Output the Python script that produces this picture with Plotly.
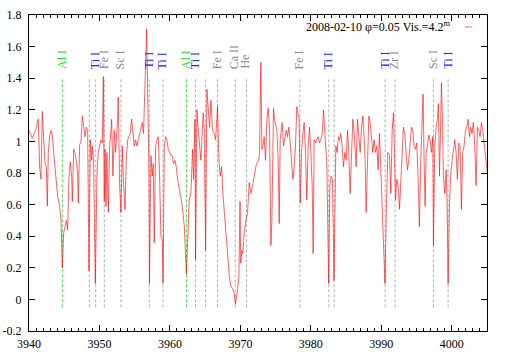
import plotly.graph_objects as go

# spectrum (wavelength in Angstrom, normalised flux)
wavelength = [
    3940.00, 3940.24, 3940.47, 3940.71, 3940.95, 3941.18, 3941.32, 3941.51, 3941.70, 3941.89,
    3942.08, 3942.27, 3942.46, 3942.60, 3942.74, 3942.93, 3943.12, 3943.31, 3943.50, 3943.69,
    3943.88, 3944.07, 3944.35, 3944.54, 3944.73, 3944.92, 3945.11, 3945.30, 3945.48, 3945.67,
    3945.86, 3946.05, 3946.15, 3946.34, 3946.52, 3946.71, 3946.90, 3947.00, 3947.19, 3947.38,
    3947.57, 3947.75, 3947.94, 3948.13, 3948.32, 3948.51, 3948.70, 3948.89, 3948.98, 3949.17,
    3949.41, 3949.65, 3949.83, 3950.02, 3950.21, 3950.40, 3950.55, 3950.68, 3950.80, 3950.92,
    3951.06, 3951.25, 3951.44, 3951.63, 3951.73, 3951.91, 3952.10, 3952.29, 3952.43, 3952.58,
    3952.67, 3952.86, 3953.05, 3953.24, 3953.43, 3953.62, 3953.81, 3954.00, 3954.18, 3954.37,
    3954.56, 3954.75, 3954.94, 3955.13, 3955.32, 3955.51, 3955.70, 3955.89, 3956.08, 3956.26,
    3956.45, 3956.69, 3956.83, 3957.02, 3957.10, 3957.30, 3957.49, 3957.64, 3957.78, 3957.97,
    3958.16, 3958.35, 3958.53, 3958.72, 3958.91, 3959.03, 3959.20, 3959.39, 3959.57, 3959.76,
    3959.95, 3960.14, 3960.33, 3960.52, 3960.71, 3960.90, 3961.09, 3961.28, 3961.47, 3961.66,
    3961.84, 3962.03, 3962.34, 3962.51, 3962.74, 3962.98, 3963.21, 3963.36, 3963.55, 3963.64,
    3963.83, 3964.02, 3964.21, 3964.40, 3964.59, 3964.73, 3964.87, 3965.06, 3965.25, 3965.44,
    3965.63, 3965.82, 3966.05, 3966.29, 3966.48, 3966.76, 3966.95, 3967.14, 3967.33, 3967.52,
    3967.71, 3967.94, 3968.18, 3968.42, 3968.65, 3968.89, 3969.13, 3969.30, 3969.46, 3969.60,
    3969.79, 3969.95, 3970.05, 3970.21, 3970.35, 3970.54, 3970.78, 3971.02, 3971.25, 3971.49,
    3971.73, 3971.96, 3972.20, 3972.43, 3972.58, 3972.72, 3972.91, 3973.05, 3973.19, 3973.38,
    3973.57, 3973.76, 3973.95, 3974.14, 3974.33, 3974.47, 3974.70, 3974.85, 3975.04, 3975.18,
    3975.37, 3975.51, 3975.65, 3975.79, 3975.93, 3976.12, 3976.31, 3976.50, 3976.69, 3976.88,
    3977.07, 3977.26, 3977.45, 3977.64, 3977.82, 3978.01, 3978.20, 3978.34, 3978.49, 3978.68,
    3978.87, 3979.05, 3979.24, 3979.43, 3979.62, 3979.81, 3980.00, 3980.19, 3980.33, 3980.47,
    3980.66, 3980.85, 3981.04, 3981.23, 3981.42, 3981.61, 3981.80, 3981.99, 3982.13, 3982.27,
    3982.53, 3982.70, 3982.88, 3983.07, 3983.29, 3983.45, 3983.55, 3983.73, 3983.92, 3984.07,
    3984.25, 3984.44, 3984.63, 3984.82, 3985.01, 3985.20, 3985.39, 3985.58, 3985.77, 3985.96,
    3986.15, 3986.29, 3986.43, 3986.62, 3986.81, 3987.00, 3987.19, 3987.38, 3987.56, 3987.71,
    3987.85, 3988.04, 3988.23, 3988.42, 3988.61, 3988.79, 3988.98, 3989.17, 3989.36, 3989.55,
    3989.74, 3989.93, 3990.12, 3990.31, 3990.52, 3990.69, 3990.92, 3991.16, 3991.35, 3991.54,
    3991.73, 3991.87, 3992.01, 3992.20, 3992.39, 3992.58, 3992.77, 3992.95, 3993.14, 3993.33,
    3993.52, 3993.71, 3993.90, 3994.09, 3994.28, 3994.47, 3994.66, 3994.85, 3995.03, 3995.22,
    3995.41, 3995.60, 3995.79, 3995.93, 3996.07, 3996.22, 3996.36, 3996.55, 3996.74, 3996.93,
    3997.12, 3997.30, 3997.40, 3997.59, 3997.78, 3997.97, 3998.11, 3998.25, 3998.39, 3998.53,
    3998.68, 3998.82, 3999.01, 3999.20, 3999.34, 3999.48, 3999.67, 3999.86, 4000.05, 4000.24,
    4000.42, 4000.61, 4000.80, 4000.99, 4001.18, 4001.37, 4001.56, 4001.75, 4001.94, 4002.13,
    4002.32, 4002.51, 4002.69, 4002.88, 4003.07, 4003.26, 4003.45, 4003.64, 4003.83, 4004.02,
    4004.21, 4004.40, 4004.59, 4004.77, 4004.96, 4005.10,
]
flux = [
    1.07, 1.04, 1.02, 1.05, 1.07, 1.12, 1.14, 0.84, 0.76, 1.19,
    1.03, 0.86, 0.84, 0.59, 0.93, 1.03, 1.07, 1.04, 0.93, 0.84,
    0.78, 0.65, 0.59, 0.50, 0.20, 0.42, 0.46, 0.50, 0.44, 0.76,
    0.87, 0.78, 0.62, 0.95, 0.93, 0.88, 0.80, 0.61, 0.98, 1.00,
    1.16, 1.09, 1.03, 1.09, 1.07, 0.18, 1.01, 0.88, 0.97, 0.88,
    0.10, 0.80, 0.93, 0.97, 1.01, 0.99, 1.41, 0.62, 0.95, 0.59,
    0.93, 0.55, 0.97, 1.07, 1.14, 0.78, 1.07, 0.93, 1.01, 1.14,
    1.28, 0.72, 0.55, 0.97, 0.72, 0.57, 0.88, 1.01, 1.03, 1.05,
    1.14, 1.05, 0.97, 1.01, 0.97, 1.01, 1.05, 1.09, 1.12, 1.05,
    1.35, 1.71, 1.35, 0.84, 0.10, 0.91, 0.78, 0.86, 0.36, 0.97,
    1.01, 1.03, 0.78, 0.40, 0.38, 0.10, 0.97, 1.03, 1.01, 0.95,
    0.93, 0.91, 0.91, 0.86, 0.88, 0.84, 0.76, 0.72, 0.67, 0.62,
    0.55, 0.47, 0.16, 0.40, 0.63, 0.67, 0.95, 0.76, 1.14, 0.25,
    1.20, 1.07, 0.97, 0.88, 1.07, 1.18, 1.07, 0.31, 1.33, 1.18,
    1.09, 1.26, 1.07, 1.05, 1.01, 1.22, 0.88, 0.78, 0.84, 0.67,
    0.55, 0.40, 0.25, 0.15, 0.08, 0.07, 0.04, -0.03, 0.02, 0.06,
    0.15, 0.62, 0.23, 0.31, 0.29, 0.42, 0.50, 0.55, 0.74, 0.67,
    0.72, 0.78, 0.84, 0.87, 0.88, 0.93, 1.50, 0.95, 0.97, 1.03,
    0.88, 1.14, 1.21, 1.07, 0.34, 0.50, 1.21, 1.14, 1.09, 1.07,
    0.88, 0.48, 1.01, 1.09, 1.12, 0.97, 1.01, 1.07, 1.03, 1.09,
    0.99, 0.88, 0.76, 0.84, 0.97, 1.22, 1.18, 1.14, 0.61, 0.93,
    1.05, 1.12, 0.93, 0.63, 0.97, 1.09, 0.93, 0.72, 0.29, 1.01,
    0.99, 1.01, 1.03, 0.99, 1.01, 1.05, 1.20, 1.05, 0.91, 0.86,
    0.10, 0.72, 0.78, 0.76, 0.12, 0.88, 0.97, 0.93, 1.03, 1.01,
    1.05, 0.97, 0.84, 0.93, 0.88, 1.07, 0.93, 0.67, 0.88, 1.14,
    1.05, 0.95, 0.84, 1.14, 1.03, 0.93, 1.09, 1.16, 1.03, 0.88,
    0.55, 0.97, 1.16, 1.12, 1.03, 0.93, 1.01, 0.93, 0.97, 0.82,
    1.05, 0.82, 0.59, 0.40, 0.10, 0.50, 0.93, 0.91, 0.67, 1.07,
    1.18, 0.93, 0.63, 0.76, 0.72, 0.57, 0.74, 0.88, 1.09, 1.05,
    0.93, 0.82, 0.88, 1.01, 1.09, 1.07, 0.97, 0.95, 0.99, 0.78,
    0.46, 0.88, 1.12, 1.30, 0.88, 0.59, 0.93, 0.97, 1.04, 1.01,
    0.93, 1.03, 0.34, 0.97, 1.09, 1.14, 1.24, 0.78, 1.03, 1.37,
    1.14, 0.78, 0.67, 0.82, 0.59, 0.10, 0.59, 0.80, 0.88, 0.97,
    1.01, 0.93, 0.76, 0.99, 0.97, 0.57, 0.93, 0.97, 1.07, 1.09,
    1.14, 1.03, 1.09, 1.05, 1.12, 0.97, 0.72, 1.09, 1.07, 1.03,
    1.12, 1.07, 0.99, 0.88, 0.84, 0.78,
]

# identified lines ("" = line drawn but not labelled)
line_wl = [3944.73, 3948.56, 3949.46, 3950.69, 3953.05, 3957.07, 3959.01,
           3962.36, 3963.64, 3965.06, 3966.76, 3969.27, 3970.87, 3978.44,
           3982.55, 3983.31, 3990.54, 3991.96, 3997.40, 3999.48]
line_label = ["Al I", "", "Ti I", "Fe I", "Sc I", "Ti I", "Ti I",
              "Al I", "Ti I", "", "Fe I", "Ca II", "He", "Fe I",
              "Ti I", "", "Ti I", "Zr I", "Sc I", "Ti I"]
line_top = 1.40
line_bottom = -0.05
label_base = 1.445

legend_text = "2008-02-10 φ=0.05 Vis.=4.2<sup>m</sup>"

FONT = "Liberation Serif, Times New Roman, serif"
GRAY = "#b0b0b0"
GREEN = "#44e044"
label_colors = {"Al I": "#22dd22", "Ti I": "#2020ff"}

fig = go.Figure()

# dashed marker lines, grey ones then green Al I ones
for is_al, col in ((False, GRAY), (True, GREEN)):
    xs, ys = [], []
    for wl, lab in zip(line_wl, line_label):
        if (lab == "Al I") != is_al:
            continue
        xs += [wl, wl, None]
        ys += [line_bottom, line_top, None]
    fig.add_trace(go.Scatter(x=xs, y=ys, mode="lines", hoverinfo="skip",
                             line=dict(color=col, width=1, dash="3px,2px"),
                             showlegend=False))

fig.add_trace(go.Scatter(x=wavelength, y=flux, mode="lines",
                         line=dict(color="rgba(255,0,0,0.62)", width=1),
                         showlegend=False))

for wl, lab in zip(line_wl, line_label):
    if not lab:
        continue
    fig.add_annotation(x=wl, y=label_base, text=lab, showarrow=False,
                       textangle=-90, xanchor="center", yanchor="bottom",
                       xshift=-1,
                       font=dict(family=FONT, size=12,
                                 color=label_colors.get(lab, "#888888")))

# gnuplot-style key: text then sample line
fig.add_annotation(x=0.924, y=0.965, xref="paper", yref="paper",
                   text=legend_text, showarrow=False,
                   xanchor="right", yanchor="middle",
                   font=dict(family=FONT, size=12, color="black"))
fig.add_shape(type="line", xref="paper", yref="paper",
              x0=0.952, x1=0.968, y0=0.962, y1=0.962,
              line=dict(color="rgba(255,0,0,0.6)", width=1))

ytick_vals = [-0.2, 0, 0.2, 0.4, 0.6, 0.8, 1.0, 1.2, 1.4, 1.6, 1.8]
ytick_text = ["-0.2", "0", "0.2", "0.4", "0.6", "0.8", "1", "1.2", "1.4", "1.6", "1.8"]

fig.update_xaxes(range=[3940, 4005], showgrid=False, zeroline=False,
                 automargin=False,
                 showline=True, linecolor="black", linewidth=1, mirror="ticks",
                 ticks="inside", ticklen=6, tickcolor="black", dtick=10,
                 tick0=3940, ticklabelstandoff=2,
                 minor=dict(ticks="inside", ticklen=3, dtick=1, tickcolor="black"),
                 tickfont=dict(family=FONT, size=12, color="black"))
fig.update_yaxes(range=[-0.2, 1.8], showgrid=False, zeroline=False,
                 automargin=False, ticklabelstandoff=4,
                 showline=True, linecolor="black", linewidth=1, mirror="ticks",
                 ticks="inside", ticklen=6, tickcolor="black",
                 tickvals=ytick_vals, ticktext=ytick_text,
                 tickfont=dict(family=FONT, size=12, color="black"))

fig.update_layout(width=509, height=356,
                  margin=dict(l=29, r=22, t=15, b=25),
                  plot_bgcolor="white", paper_bgcolor="white",
                  font=dict(family=FONT))

# the page's default body margin would shift the figure by 8px
fig.write_html("out.html", config={"displayModeBar": False},
               post_script="document.body.style.margin = '0px';")
